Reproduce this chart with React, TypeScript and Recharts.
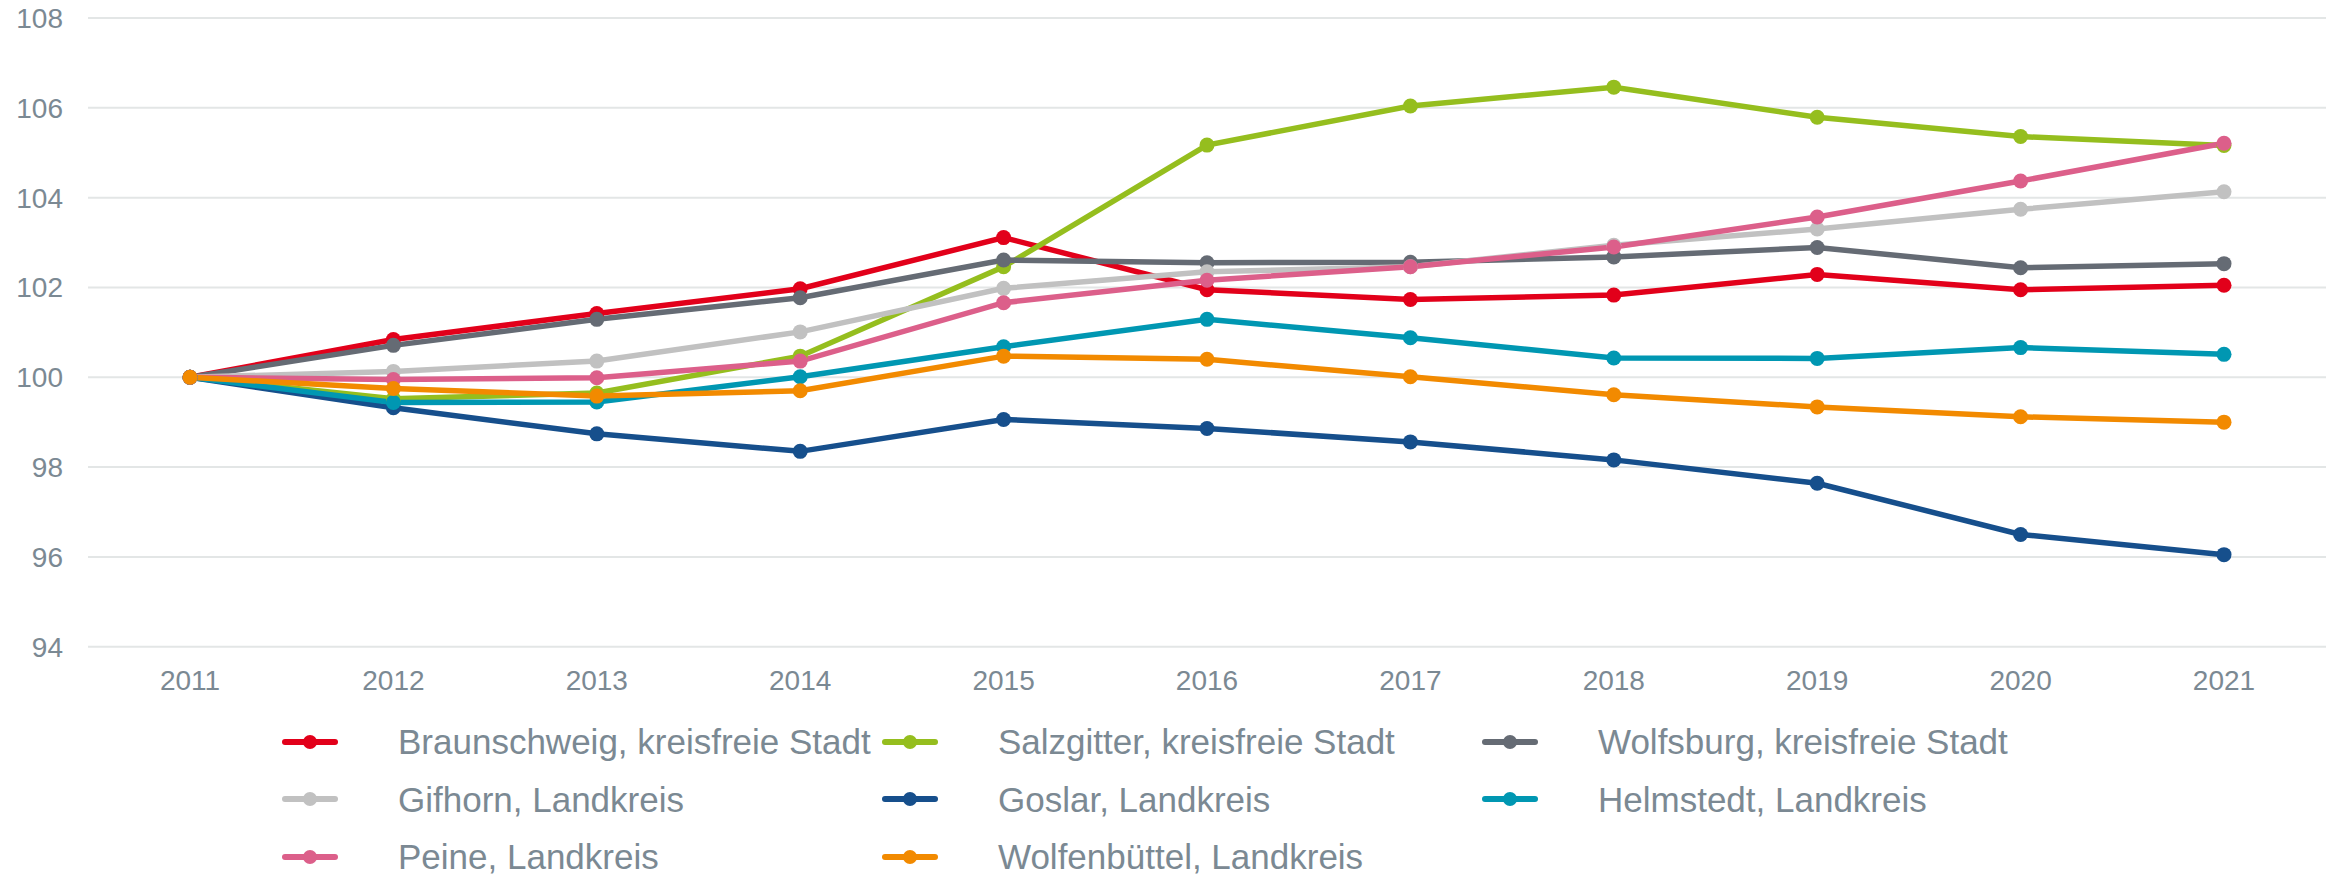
import React from "react";
import { LineChart, Line, XAxis, YAxis, CartesianGrid, Legend } from "recharts";

const years = ["2011", "2012", "2013", "2014", "2015", "2016", "2017", "2018", "2019", "2020", "2021"];
const yTicks = [94, 96, 98, 100, 102, 104, 106, 108];

const braunschweig = [100, 100.84, 101.42, 101.97, 103.11, 101.95, 101.73, 101.83, 102.29, 101.95, 102.05];
const salzgitter = [100, 99.52, 99.65, 100.47, 102.46, 105.17, 106.04, 106.46, 105.79, 105.36, 105.16];
const wolfsburg = [100, 100.71, 101.29, 101.77, 102.61, 102.55, 102.56, 102.68, 102.89, 102.44, 102.53];
const gifhorn = [100, 100.13, 100.36, 101.01, 101.98, 102.35, 102.46, 102.94, 103.3, 103.74, 104.13];
const goslar = [100, 99.32, 98.74, 98.35, 99.06, 98.86, 98.56, 98.16, 97.64, 96.5, 96.05];
const helmstedt = [100, 99.44, 99.45, 100.01, 100.68, 101.29, 100.88, 100.43, 100.42, 100.66, 100.51];
const peine = [100, 99.95, 99.99, 100.36, 101.66, 102.16, 102.46, 102.9, 103.57, 104.37, 105.21];
const wolfenbuettel = [100, 99.75, 99.58, 99.7, 100.47, 100.4, 100.01, 99.61, 99.34, 99.12, 99.0];

const series = [
  { key: "bs", name: "Braunschweig, kreisfreie Stadt", color: "#e2001a", values: braunschweig },
  { key: "sz", name: "Salzgitter, kreisfreie Stadt", color: "#95be1e", values: salzgitter },
  { key: "wob", name: "Wolfsburg, kreisfreie Stadt", color: "#656b74", values: wolfsburg },
  { key: "gf", name: "Gifhorn, Landkreis", color: "#c1c1c1", values: gifhorn },
  { key: "gs", name: "Goslar, Landkreis", color: "#164f8c", values: goslar },
  { key: "he", name: "Helmstedt, Landkreis", color: "#0097b2", values: helmstedt },
  { key: "pe", name: "Peine, Landkreis", color: "#dc5f8a", values: peine },
  { key: "wf", name: "Wolfenbüttel, Landkreis", color: "#f28a00", values: wolfenbuettel },
];

const data = years.map((year, i) => {
  const row: Record<string, string | number> = { year };
  series.forEach((s) => {
    row[s.key] = s.values[i];
  });
  return row;
});

const FONT = '"Liberation Sans", Arial, sans-serif';
const TEXT = "#7b8993";

// legend keeps the series order (recharts sorts by name otherwise)
function GridLegend(props: any) {
  const payload = [...(props.payload || [])].sort(
    (a: any, b: any) =>
      series.findIndex((s) => s.key === a.dataKey) - series.findIndex((s) => s.key === b.dataKey)
  );
  return (
    <div
      style={{
        display: "grid",
        gridTemplateColumns: "600px 600px 600px",
        paddingLeft: 282,
        fontFamily: FONT,
        fontSize: 35,
        color: TEXT,
      }}
    >
      {payload.map((item: any) => (
        <div key={item.value} style={{ height: 57.5, display: "flex", alignItems: "center" }}>
          <svg width={56} height={20} style={{ flex: "none" }}>
            <line x1={3} y1={10} x2={53} y2={10} stroke={item.color} strokeWidth={6} strokeLinecap="round" />
            <circle cx={28} cy={10} r={7} fill={item.color} />
          </svg>
          <span style={{ marginLeft: 60, whiteSpace: "nowrap", lineHeight: 1 }}>{item.value}</span>
        </div>
      ))}
    </div>
  );
}

export default function App() {
  return (
    <div style={{ position: "absolute", left: 0, top: 0, background: "#fff" }}>
      <LineChart width={2334} height={875} data={data} margin={{ top: 18, right: 8, left: 0, bottom: 168.3 }}>
        <CartesianGrid vertical={false} stroke="#e3e6e6" strokeWidth={2} />
        <XAxis
          dataKey="year"
          height={60}
          axisLine={false}
          tickLine={false}
          tickSize={0}
          tickMargin={23}
          padding={{ left: 102, right: 102 }}
          tick={{ fill: TEXT, fontSize: 28, fontFamily: FONT }}
        />
        <YAxis
          width={88}
          domain={[94, 108]}
          ticks={yTicks}
          axisLine={false}
          tickLine={false}
          tickSize={0}
          tickMargin={25}
          tick={{ fill: TEXT, fontSize: 28, fontFamily: FONT }}
        />
        <Legend
          content={<GridLegend />}
          wrapperStyle={{ top: 713, left: 0, bottom: "auto", width: 2334, height: 0 }}
        />
        {series.map((s) => (
          <Line
            key={s.key}
            dataKey={s.key}
            name={s.name}
            stroke={s.color}
            strokeWidth={5.5}
            type="linear"
            dot={{ r: 7.5, fill: s.color, stroke: s.color, strokeWidth: 0 }}
            activeDot={false}
            isAnimationActive={false}
          />
        ))}
      </LineChart>
    </div>
  );
}
